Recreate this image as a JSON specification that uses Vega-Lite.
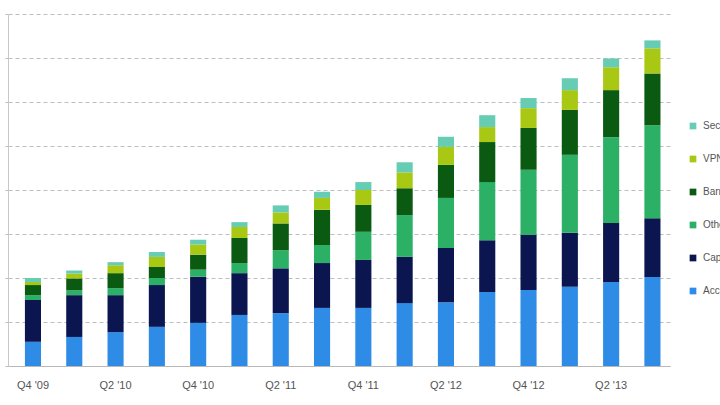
{
  "$schema": "https://vega.github.io/schema/vega-lite/v6.json",
  "width": 662,
  "height": 352,
  "autosize": "none",
  "padding": {"left": 8, "top": 14, "right": 50, "bottom": 39},
  "background": "white",
  "config": {
    "font": "Liberation Sans",
    "view": {"stroke": null}
  },
  "data": {
    "values": [
      {"q": "Q4 '09", "s": "Access", "k": 1, "v": 5.5},
      {"q": "Q4 '09", "s": "Capacity", "k": 2, "v": 9.5},
      {"q": "Q4 '09", "s": "Other", "k": 3, "v": 1.1},
      {"q": "Q4 '09", "s": "Bandwidth", "k": 4, "v": 2.3},
      {"q": "Q4 '09", "s": "VPN", "k": 5, "v": 0.7},
      {"q": "Q4 '09", "s": "Security", "k": 6, "v": 0.9},
      {"q": "Q1 '10", "s": "Access", "k": 1, "v": 6.6},
      {"q": "Q1 '10", "s": "Capacity", "k": 2, "v": 9.5},
      {"q": "Q1 '10", "s": "Other", "k": 3, "v": 1.1},
      {"q": "Q1 '10", "s": "Bandwidth", "k": 4, "v": 2.7},
      {"q": "Q1 '10", "s": "VPN", "k": 5, "v": 1.1},
      {"q": "Q1 '10", "s": "Security", "k": 6, "v": 0.7},
      {"q": "Q2 '10", "s": "Access", "k": 1, "v": 7.7},
      {"q": "Q2 '10", "s": "Capacity", "k": 2, "v": 8.4},
      {"q": "Q2 '10", "s": "Other", "k": 3, "v": 1.6},
      {"q": "Q2 '10", "s": "Bandwidth", "k": 4, "v": 3.4},
      {"q": "Q2 '10", "s": "VPN", "k": 5, "v": 1.8},
      {"q": "Q2 '10", "s": "Security", "k": 6, "v": 0.7},
      {"q": "Q3 '10", "s": "Access", "k": 1, "v": 8.9},
      {"q": "Q3 '10", "s": "Capacity", "k": 2, "v": 9.5},
      {"q": "Q3 '10", "s": "Other", "k": 3, "v": 1.6},
      {"q": "Q3 '10", "s": "Bandwidth", "k": 4, "v": 2.5},
      {"q": "Q3 '10", "s": "VPN", "k": 5, "v": 2.3},
      {"q": "Q3 '10", "s": "Security", "k": 6, "v": 1.1},
      {"q": "Q4 '10", "s": "Access", "k": 1, "v": 9.8},
      {"q": "Q4 '10", "s": "Capacity", "k": 2, "v": 10.5},
      {"q": "Q4 '10", "s": "Other", "k": 3, "v": 1.6},
      {"q": "Q4 '10", "s": "Bandwidth", "k": 4, "v": 3.4},
      {"q": "Q4 '10", "s": "VPN", "k": 5, "v": 2.3},
      {"q": "Q4 '10", "s": "Security", "k": 6, "v": 1.1},
      {"q": "Q1 '11", "s": "Access", "k": 1, "v": 11.6},
      {"q": "Q1 '11", "s": "Capacity", "k": 2, "v": 9.5},
      {"q": "Q1 '11", "s": "Other", "k": 3, "v": 2.3},
      {"q": "Q1 '11", "s": "Bandwidth", "k": 4, "v": 5.7},
      {"q": "Q1 '11", "s": "VPN", "k": 5, "v": 2.5},
      {"q": "Q1 '11", "s": "Security", "k": 6, "v": 1.1},
      {"q": "Q2 '11", "s": "Access", "k": 1, "v": 12.0},
      {"q": "Q2 '11", "s": "Capacity", "k": 2, "v": 10.2},
      {"q": "Q2 '11", "s": "Other", "k": 3, "v": 4.1},
      {"q": "Q2 '11", "s": "Bandwidth", "k": 4, "v": 6.1},
      {"q": "Q2 '11", "s": "VPN", "k": 5, "v": 2.5},
      {"q": "Q2 '11", "s": "Security", "k": 6, "v": 1.6},
      {"q": "Q3 '11", "s": "Access", "k": 1, "v": 13.2},
      {"q": "Q3 '11", "s": "Capacity", "k": 2, "v": 10.2},
      {"q": "Q3 '11", "s": "Other", "k": 3, "v": 4.1},
      {"q": "Q3 '11", "s": "Bandwidth", "k": 4, "v": 8.0},
      {"q": "Q3 '11", "s": "VPN", "k": 5, "v": 2.7},
      {"q": "Q3 '11", "s": "Security", "k": 6, "v": 1.4},
      {"q": "Q4 '11", "s": "Access", "k": 1, "v": 13.2},
      {"q": "Q4 '11", "s": "Capacity", "k": 2, "v": 10.9},
      {"q": "Q4 '11", "s": "Other", "k": 3, "v": 6.4},
      {"q": "Q4 '11", "s": "Bandwidth", "k": 4, "v": 6.1},
      {"q": "Q4 '11", "s": "VPN", "k": 5, "v": 3.4},
      {"q": "Q4 '11", "s": "Security", "k": 6, "v": 1.8},
      {"q": "Q1 '12", "s": "Access", "k": 1, "v": 14.3},
      {"q": "Q1 '12", "s": "Capacity", "k": 2, "v": 10.5},
      {"q": "Q1 '12", "s": "Other", "k": 3, "v": 9.5},
      {"q": "Q1 '12", "s": "Bandwidth", "k": 4, "v": 6.1},
      {"q": "Q1 '12", "s": "VPN", "k": 5, "v": 3.6},
      {"q": "Q1 '12", "s": "Security", "k": 6, "v": 2.3},
      {"q": "Q2 '12", "s": "Access", "k": 1, "v": 14.5},
      {"q": "Q2 '12", "s": "Capacity", "k": 2, "v": 12.3},
      {"q": "Q2 '12", "s": "Other", "k": 3, "v": 11.4},
      {"q": "Q2 '12", "s": "Bandwidth", "k": 4, "v": 7.5},
      {"q": "Q2 '12", "s": "VPN", "k": 5, "v": 4.1},
      {"q": "Q2 '12", "s": "Security", "k": 6, "v": 2.3},
      {"q": "Q3 '12", "s": "Access", "k": 1, "v": 16.8},
      {"q": "Q3 '12", "s": "Capacity", "k": 2, "v": 11.8},
      {"q": "Q3 '12", "s": "Other", "k": 3, "v": 13.2},
      {"q": "Q3 '12", "s": "Bandwidth", "k": 4, "v": 9.1},
      {"q": "Q3 '12", "s": "VPN", "k": 5, "v": 3.4},
      {"q": "Q3 '12", "s": "Security", "k": 6, "v": 2.7},
      {"q": "Q4 '12", "s": "Access", "k": 1, "v": 17.3},
      {"q": "Q4 '12", "s": "Capacity", "k": 2, "v": 12.5},
      {"q": "Q4 '12", "s": "Other", "k": 3, "v": 14.8},
      {"q": "Q4 '12", "s": "Bandwidth", "k": 4, "v": 9.5},
      {"q": "Q4 '12", "s": "VPN", "k": 5, "v": 4.5},
      {"q": "Q4 '12", "s": "Security", "k": 6, "v": 2.3},
      {"q": "Q1 '13", "s": "Access", "k": 1, "v": 18.0},
      {"q": "Q1 '13", "s": "Capacity", "k": 2, "v": 12.3},
      {"q": "Q1 '13", "s": "Other", "k": 3, "v": 17.7},
      {"q": "Q1 '13", "s": "Bandwidth", "k": 4, "v": 10.2},
      {"q": "Q1 '13", "s": "VPN", "k": 5, "v": 4.5},
      {"q": "Q1 '13", "s": "Security", "k": 6, "v": 2.7},
      {"q": "Q2 '13", "s": "Access", "k": 1, "v": 19.1},
      {"q": "Q2 '13", "s": "Capacity", "k": 2, "v": 13.4},
      {"q": "Q2 '13", "s": "Other", "k": 3, "v": 19.5},
      {"q": "Q2 '13", "s": "Bandwidth", "k": 4, "v": 10.7},
      {"q": "Q2 '13", "s": "VPN", "k": 5, "v": 5.2},
      {"q": "Q2 '13", "s": "Security", "k": 6, "v": 2.0},
      {"q": "Q3 '13", "s": "Access", "k": 1, "v": 20.2},
      {"q": "Q3 '13", "s": "Capacity", "k": 2, "v": 13.4},
      {"q": "Q3 '13", "s": "Other", "k": 3, "v": 21.1},
      {"q": "Q3 '13", "s": "Bandwidth", "k": 4, "v": 11.8},
      {"q": "Q3 '13", "s": "VPN", "k": 5, "v": 5.7},
      {"q": "Q3 '13", "s": "Security", "k": 6, "v": 1.8}
    ]
  },
  "mark": {"type": "bar"},
  "encoding": {
    "x": {
      "field": "q",
      "type": "nominal",
      "sort": null,
      "title": null,
      "scale": {"paddingInner": 0.61, "paddingOuter": 0.32, "align": 0.64},
      "axis": {
        "labelAngle": 0,
        "ticks": false,
        "labelPadding": 13,
        "labelFontSize": 11,
        "labelColor": "#555555",
        "domainColor": "#b8b8b8",
        "labelExpr": "indexof(['Q4 \\'09','Q2 \\'10','Q4 \\'10','Q2 \\'11','Q4 \\'11','Q2 \\'12','Q4 \\'12','Q2 \\'13'], datum.value) >= 0 ? datum.value : ''"
      }
    },
    "y": {
      "field": "v",
      "type": "quantitative",
      "aggregate": "sum",
      "stack": "zero",
      "title": null,
      "scale": {"domain": [0, 80], "nice": false},
      "axis": {
        "values": [0, 10, 20, 30, 40, 50, 60, 70, 80],
        "labels": false,
        "ticks": true,
        "tickSize": 3,
        "tickColor": "#c0c0c0",
        "domainColor": "#c8c8c8",
        "gridColor": "#bdbdbd",
        "gridDash": [4, 3],
        "gridWidth": 1
      }
    },
    "color": {
      "field": "s",
      "type": "nominal",
      "title": null,
      "scale": {
        "domain": ["Security", "VPN", "Bandwidth", "Other", "Capacity", "Access"],
        "range": ["#66ccb4", "#a8c814", "#0b5a12", "#2bb066", "#0b1650", "#2f8ce6"]
      },
      "legend": {
        "orient": "none",
        "legendX": 680,
        "legendY": 107,
        "padding": 0,
        "symbolType": "square",
        "symbolSize": 45,
        "labelFontSize": 10,
        "labelColor": "#555555",
        "rowPadding": 23,
        "labelOffset": 5
      }
    },
    "order": {"field": "k", "type": "quantitative", "sort": "ascending"}
  }
}
